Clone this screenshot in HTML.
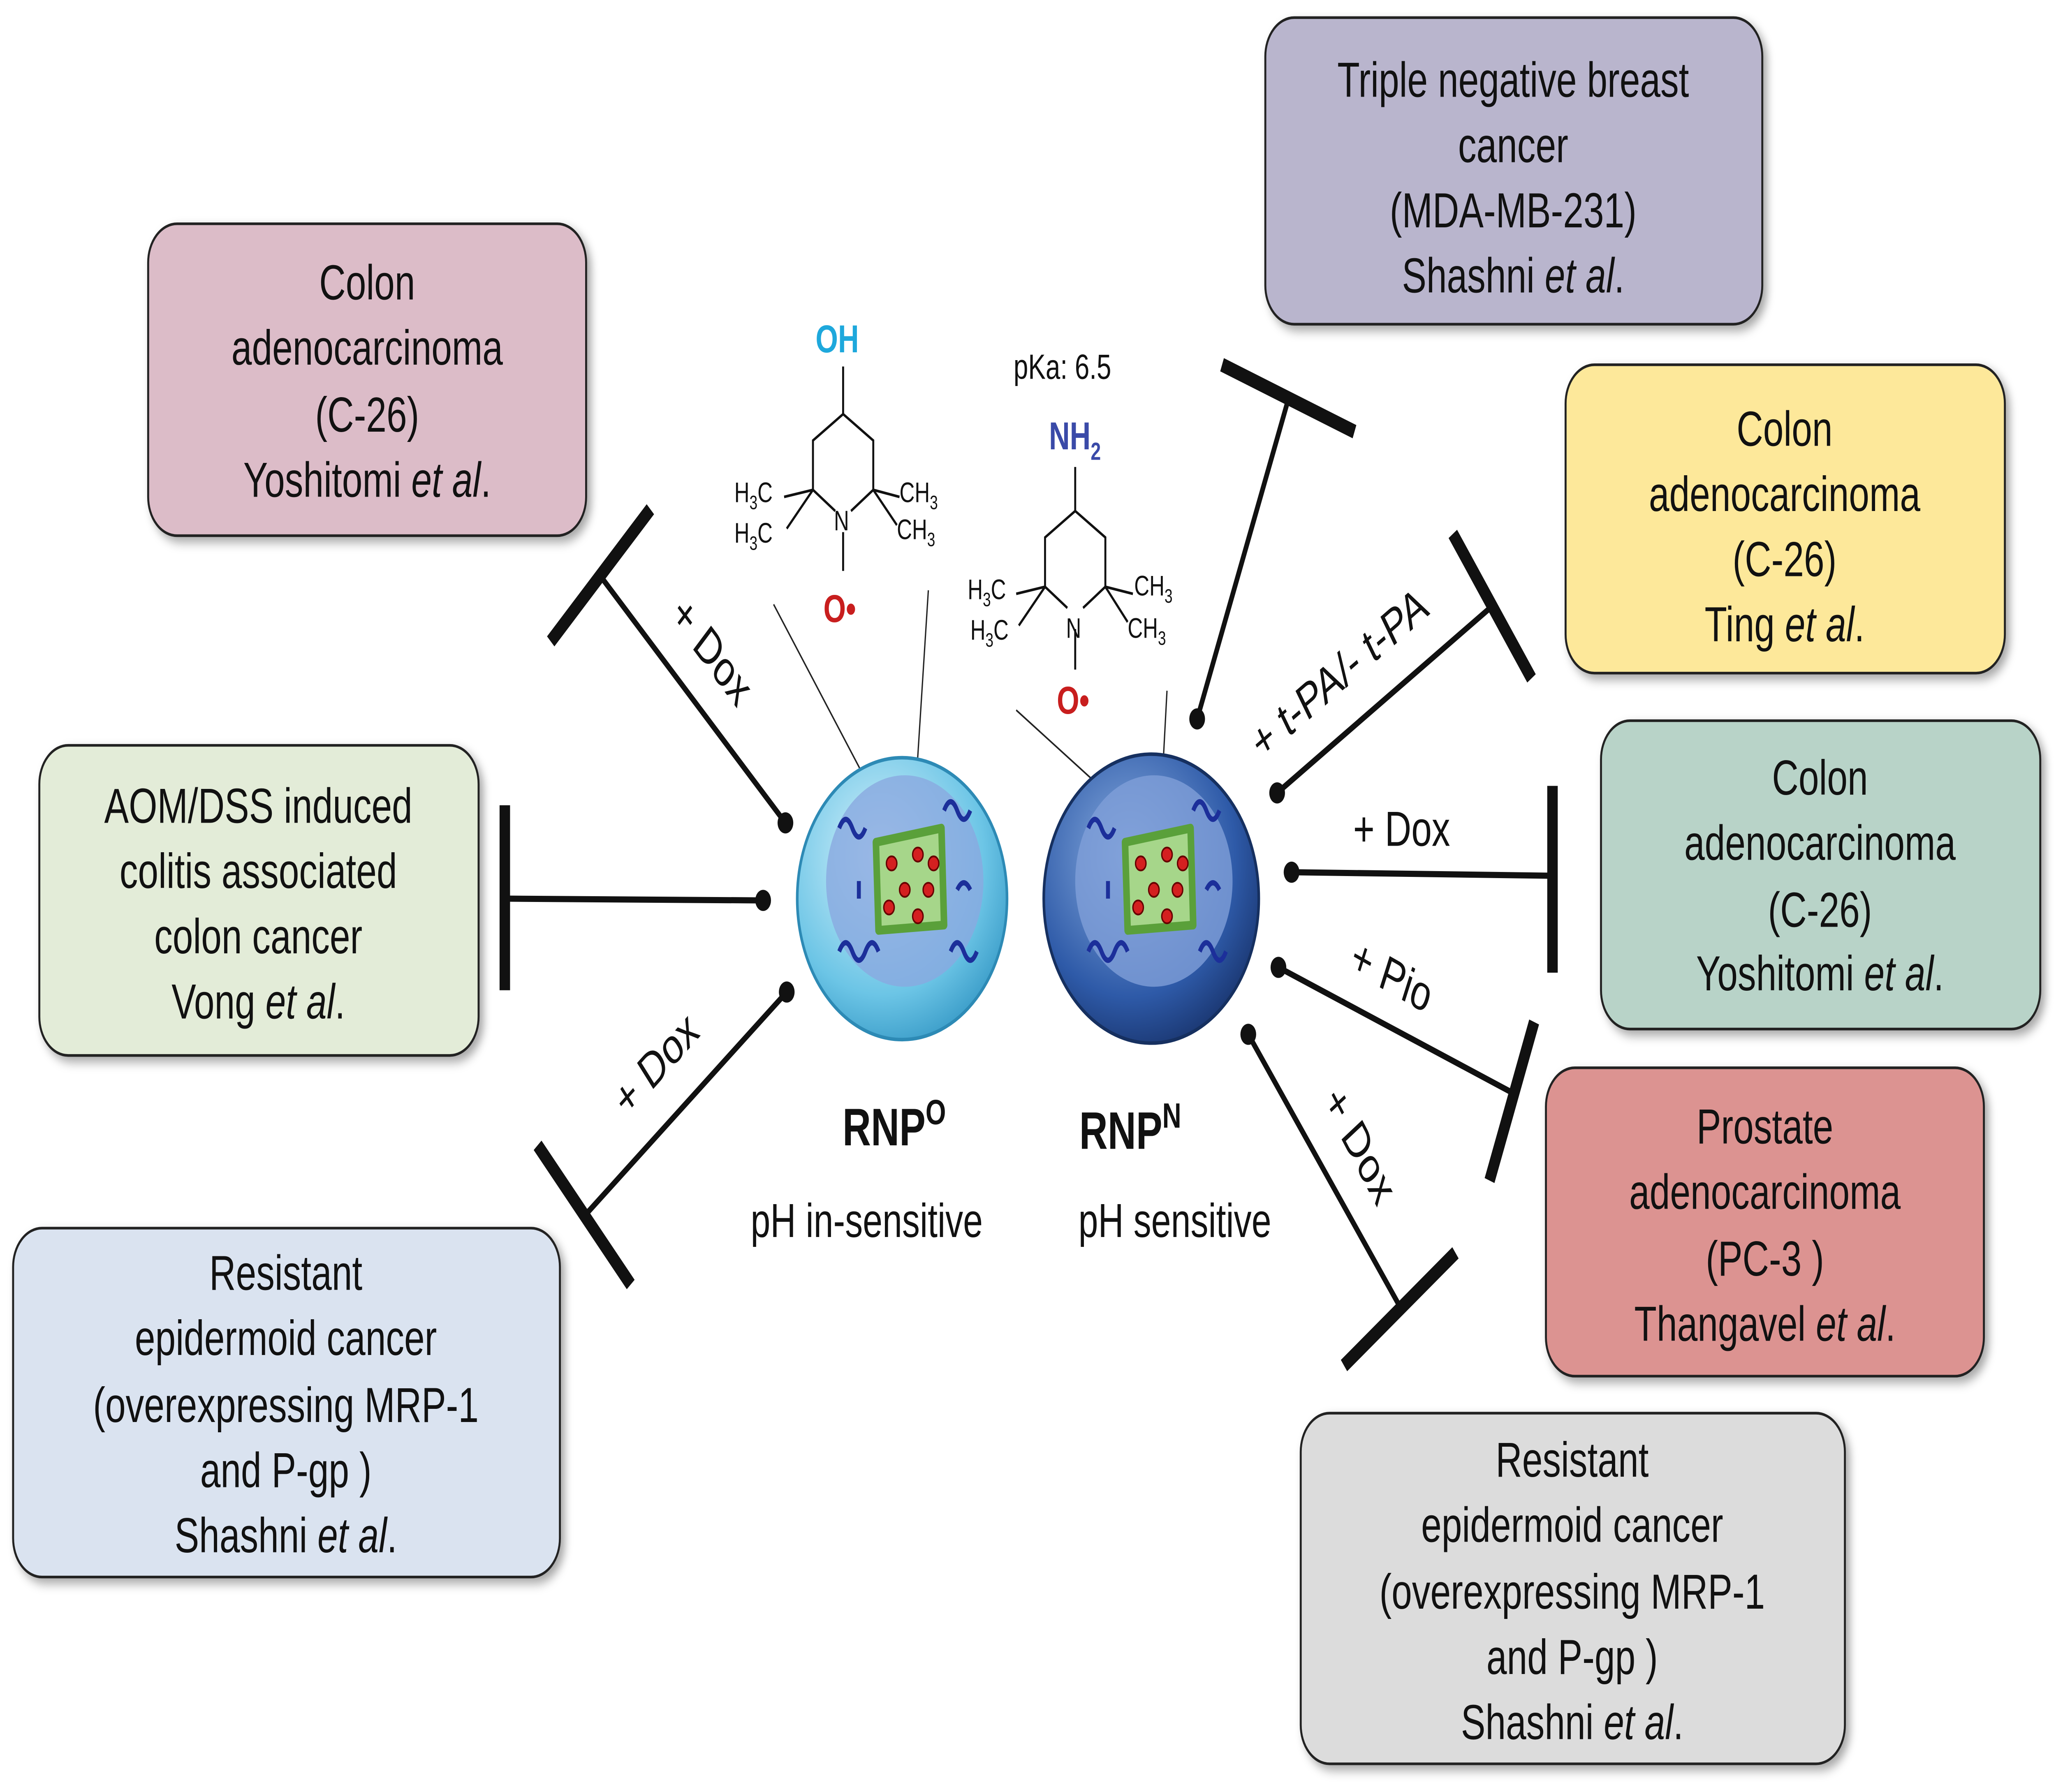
<!DOCTYPE html>
<html><head><meta charset="utf-8"><style>
html,body{margin:0;padding:0;background:#fff;width:100%;height:100%;overflow:hidden;}
svg{display:block;width:100vw;height:100vh;}
text{font-family:"Liberation Sans",Arial,sans-serif;}
</style></head><body>
<svg viewBox="0 0 1568 1017" preserveAspectRatio="none" xmlns="http://www.w3.org/2000/svg">
<defs>
<radialGradient id="gl" cx="0.4" cy="0.35" r="0.7"><stop offset="0" stop-color="#d8f2fb"/><stop offset="0.7" stop-color="#6cc5e6"/><stop offset="1" stop-color="#3a9cc8"/></radialGradient>
<radialGradient id="gd" cx="0.4" cy="0.35" r="0.7"><stop offset="0" stop-color="#8aaee0"/><stop offset="0.7" stop-color="#2e5aa8"/><stop offset="1" stop-color="#1a3670"/></radialGradient>
<filter id="sh" x="-10%" y="-10%" width="130%" height="130%"><feDropShadow dx="3" dy="3" stdDeviation="3" flood-opacity="0.35"/></filter>
</defs>
<g stroke="#222" stroke-width="1.5" filter="url(#sh)">
<rect x="113" y="127" width="334" height="177" rx="22" fill="#dcbcc8"/>
<rect x="30" y="423" width="335" height="176" rx="22" fill="#e3ecd8"/>
<rect x="10" y="697" width="417" height="198" rx="22" fill="#dae3f0"/>
<rect x="965" y="10" width="379" height="174" rx="22" fill="#b9b5cd"/>
<rect x="1194" y="207" width="335" height="175" rx="22" fill="#fde89a"/>
<rect x="1221" y="409" width="335" height="175" rx="22" fill="#b8d3c8"/>
<rect x="1179" y="606" width="334" height="175" rx="22" fill="#dc9391"/>
<rect x="992" y="802" width="415" height="199" rx="22" fill="#dcdcdc"/>
</g>
<g font-size="28" fill="#111" text-anchor="middle">
<text x="280" y="170">Colon</text><text x="280" y="207">adenocarcinoma</text><text x="280" y="245">(C-26)</text><text x="280" y="282">Yoshitomi <tspan font-style="italic">et al</tspan>.</text>
<text x="197" y="467">AOM/DSS induced</text><text x="197" y="504">colitis associated</text><text x="197" y="541">colon cancer</text><text x="197" y="578">Vong <tspan font-style="italic">et al</tspan>.</text>
<text x="218" y="732">Resistant</text><text x="218" y="769">epidermoid cancer</text><text x="218" y="807">(overexpressing MRP-1</text><text x="218" y="844">and P-gp )</text><text x="218" y="881">Shashni <tspan font-style="italic">et al</tspan>.</text>
<text x="1154" y="55">Triple negative breast</text><text x="1154" y="92">cancer</text><text x="1154" y="129">(MDA-MB-231)</text><text x="1154" y="166">Shashni <tspan font-style="italic">et al</tspan>.</text>
<text x="1361" y="253">Colon</text><text x="1361" y="290">adenocarcinoma</text><text x="1361" y="327">(C-26)</text><text x="1361" y="364">Ting <tspan font-style="italic">et al</tspan>.</text>
<text x="1388" y="451">Colon</text><text x="1388" y="488">adenocarcinoma</text><text x="1388" y="526">(C-26)</text><text x="1388" y="562">Yoshitomi <tspan font-style="italic">et al</tspan>.</text>
<text x="1346" y="649">Prostate</text><text x="1346" y="686">adenocarcinoma</text><text x="1346" y="724">(PC-3 )</text><text x="1346" y="761">Thangavel <tspan font-style="italic">et al</tspan>.</text>
<text x="1199" y="838">Resistant</text><text x="1199" y="875">epidermoid cancer</text><text x="1199" y="913">(overexpressing MRP-1</text><text x="1199" y="950">and P-gp )</text><text x="1199" y="987">Shashni <tspan font-style="italic">et al</tspan>.</text>
</g>
<g stroke="#111" stroke-width="3.5" fill="none">
<line x1="599" y1="467" x2="458" y2="327"/><line x1="420" y1="364" x2="496" y2="289" stroke-width="8"/>
<line x1="582" y1="511" x2="385" y2="510"/><line x1="385" y1="457" x2="385" y2="562" stroke-width="8"/>
<line x1="600" y1="563" x2="447" y2="689"/><line x1="410" y1="650" x2="481" y2="729" stroke-width="8"/>
<line x1="913" y1="408" x2="982" y2="228"/><line x1="932" y1="207" x2="1033" y2="245" stroke-width="8"/>
<line x1="974" y1="450" x2="1138" y2="344"/><line x1="1108" y1="303" x2="1168" y2="385" stroke-width="8"/>
<line x1="985" y1="495" x2="1184" y2="497"/><line x1="1184" y1="446" x2="1184" y2="552" stroke-width="8"/>
<line x1="975" y1="549" x2="1153" y2="620"/><line x1="1170" y1="580" x2="1136" y2="670" stroke-width="8"/>
<line x1="952" y1="587" x2="1068" y2="742"/><line x1="1025" y1="775" x2="1110" y2="711" stroke-width="8"/>
</g>
<g fill="#111">
<circle cx="599" cy="467" r="6"/><circle cx="582" cy="511" r="6"/><circle cx="600" cy="563" r="6"/>
<circle cx="913" cy="408" r="6"/><circle cx="974" cy="450" r="6"/><circle cx="985" cy="495" r="6"/><circle cx="975" cy="549" r="6"/><circle cx="952" cy="587" r="6"/>
</g>
<g font-size="28" fill="#111">
<text transform="translate(510,350) rotate(45)">+ Dox</text>
<text transform="translate(478,635) rotate(-40)">+ Dox</text>
<text transform="translate(962,432) rotate(-33)">+ t-PA/- t-PA</text>
<text x="1032" y="480">+ Dox</text>
<text transform="translate(1028,550) rotate(23)">+ Pio</text>
<text transform="translate(1008,625) rotate(55)">+ Dox</text>
</g>
<g stroke="#222" stroke-width="1">
<line x1="590" y1="343" x2="662" y2="445"/><line x1="708" y1="335" x2="698" y2="452"/>
<line x1="775" y1="403" x2="862" y2="462"/><line x1="890" y1="392" x2="885" y2="462"/>
</g>
<g>
<circle cx="688" cy="510" r="80" fill="url(#gl)" stroke="#2d8ab5" stroke-width="2"/>
<circle cx="690" cy="500" r="60" fill="#8aa9e0" opacity="0.8"/>
<path d="M668 478 L718 470 L720 525 L670 528 Z" fill="#a6d68a" stroke="#5aa03a" stroke-width="5" stroke-linejoin="round"/>
<circle cx="878" cy="510" r="82" fill="url(#gd)" stroke="#163060" stroke-width="2"/>
<circle cx="880" cy="500" r="60" fill="#7f9fd8" opacity="0.8"/>
<path d="M858 478 L908 470 L910 525 L860 528 Z" fill="#a6d68a" stroke="#5aa03a" stroke-width="5" stroke-linejoin="round"/>
<g fill="#d42020" stroke="#600" stroke-width="1">
<circle cx="680" cy="490" r="4"/><circle cx="700" cy="485" r="4"/><circle cx="690" cy="505" r="4"/><circle cx="708" cy="505" r="4"/><circle cx="678" cy="515" r="4"/><circle cx="700" cy="520" r="4"/><circle cx="712" cy="490" r="4"/>
<circle cx="870" cy="490" r="4"/><circle cx="890" cy="485" r="4"/><circle cx="880" cy="505" r="4"/><circle cx="898" cy="505" r="4"/><circle cx="868" cy="515" r="4"/><circle cx="890" cy="520" r="4"/><circle cx="902" cy="490" r="4"/>
</g>
<g stroke="#1c2f9a" stroke-width="3" fill="none">
<path d="M640 470 q5 -10 10 0 q5 10 10 0 M640 540 q5 -10 10 0 q5 10 10 0 q5 -10 10 0 M720 460 q5 -10 10 0 q5 10 10 0 M725 540 q5 -10 10 0 q5 10 10 0 M655 500 v10 M730 505 q5 -8 10 0"/>
<path d="M830 470 q5 -10 10 0 q5 10 10 0 M830 540 q5 -10 10 0 q5 10 10 0 q5 -10 10 0 M910 460 q5 -10 10 0 q5 10 10 0 M915 540 q5 -10 10 0 q5 10 10 0 M845 500 v10 M920 505 q5 -8 10 0"/>
</g>
</g>
<g font-size="30" font-weight="bold" fill="#111" text-anchor="middle">
<text x="682" y="650">RNP<tspan font-size="20" dy="-12">O</tspan></text>
<text x="862" y="652">RNP<tspan font-size="20" dy="-12">N</tspan></text>
</g>
<g font-size="27" fill="#111" text-anchor="middle">
<text x="661" y="702">pH in-sensitive</text>
<text x="896" y="702">pH sensitive</text>
</g>
<g stroke="#111" stroke-width="1.5" fill="none">
<path d="M643 208 V235 L620 250 V278 L637 290 M649 290 L666 278 V250 L643 235"/><line x1="643" y1="302" x2="643" y2="324"/>
<line x1="620" y1="278" x2="598" y2="282"/><line x1="620" y1="278" x2="600" y2="300"/>
<line x1="666" y1="278" x2="686" y2="282"/><line x1="666" y1="278" x2="684" y2="298"/>
<path d="M820 265 V290 L797 305 V333 L814 345 M826 345 L843 333 V305 L820 290"/><line x1="820" y1="357" x2="820" y2="380"/>
<line x1="797" y1="333" x2="775" y2="337"/><line x1="797" y1="333" x2="777" y2="355"/>
<line x1="843" y1="333" x2="864" y2="337"/><line x1="843" y1="333" x2="860" y2="353"/>
</g>
<g font-size="22" font-weight="bold">
<text x="622" y="200" fill="#1ea8dc">OH</text>
<text x="628" y="353" fill="#c81e1e">O•</text>
<text x="800" y="255" fill="#3a4aa8">NH<tspan font-size="14" dy="6">2</tspan></text>
<text x="806" y="405" fill="#c81e1e">O•</text>
</g>
<g font-size="16" fill="#111">
<text x="636" y="301">N</text><text x="813" y="362">N</text>
<text x="560" y="285">H<tspan font-size="11" dy="4">3</tspan><tspan dy="-4">C</tspan></text>
<text x="560" y="308">H<tspan font-size="11" dy="4">3</tspan><tspan dy="-4">C</tspan></text>
<text x="686" y="285">CH<tspan font-size="11" dy="4">3</tspan></text>
<text x="684" y="306">CH<tspan font-size="11" dy="4">3</tspan></text>
<text x="738" y="340">H<tspan font-size="11" dy="4">3</tspan><tspan dy="-4">C</tspan></text>
<text x="740" y="363">H<tspan font-size="11" dy="4">3</tspan><tspan dy="-4">C</tspan></text>
<text x="865" y="338">CH<tspan font-size="11" dy="4">3</tspan></text>
<text x="860" y="362">CH<tspan font-size="11" dy="4">3</tspan></text>
<text x="773" y="215" font-size="20">pKa: 6.5</text>
</g>
</svg>
</body></html>
